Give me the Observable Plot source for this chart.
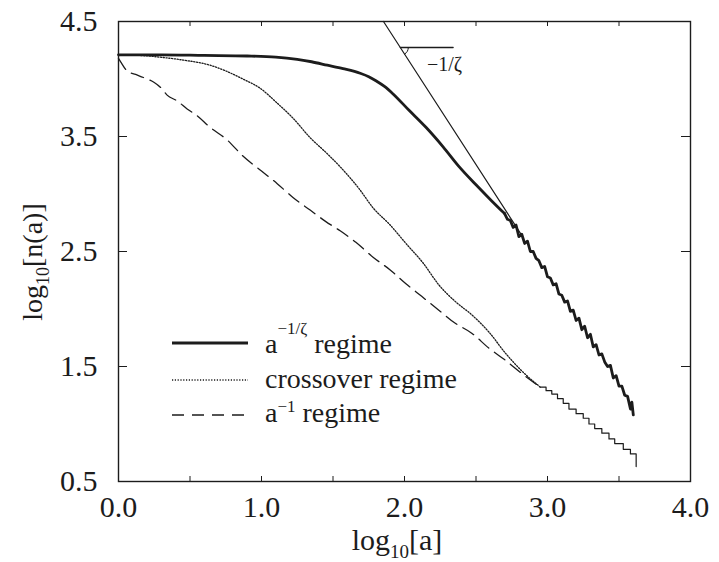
<!DOCTYPE html>
<html><head><meta charset="utf-8">
<script src="https://cdn.jsdelivr.net/npm/d3@7"></script>
<script src="https://cdn.jsdelivr.net/npm/@observablehq/plot@0.6"></script>
<style>
body{margin:0;background:#fff;}
#chart svg{display:block;}
</style>
</head><body><div id="chart"></div>
<script>
// ---- tick values ----
const xTickValues = [0, 1, 2, 3, 4];
const xMinorTicks = [0.5, 1, 1.5, 2, 2.5, 3, 3.5];
const yTickValues = [0.5, 1.5, 2.5, 3.5, 4.5];

// ---- a^{-1/zeta} regime (solid): smooth part ----
const solidX = [0, 0.3, 0.6, 0.9, 1.1, 1.25, 1.35, 1.46, 1.57, 1.69, 1.75, 1.80, 1.86, 1.92, 2.03, 2.15, 2.27, 2.38, 2.50, 2.61, 2.70];
const solidY = [4.21, 4.21, 4.205, 4.20, 4.19, 4.17, 4.15, 4.12, 4.09, 4.05, 4.02, 3.985, 3.935, 3.87, 3.73, 3.58, 3.41, 3.24, 3.08, 2.94, 2.83];
// ---- a^{-1/zeta} regime (solid): noisy large-a part ----
const noisyX = [2.70, 2.72, 2.74, 2.76, 2.78, 2.80, 2.82, 2.84, 2.86, 2.88, 2.90, 2.92, 2.94, 2.96, 2.98, 3.00, 3.02, 3.04,
  3.06, 3.08, 3.10, 3.12, 3.14, 3.16, 3.18, 3.20, 3.22, 3.24, 3.26, 3.28, 3.30, 3.32, 3.34, 3.36, 3.38, 3.40, 3.42, 3.44,
  3.46, 3.48, 3.50, 3.52, 3.54, 3.56, 3.58, 3.59, 3.60];
const noisyY = [2.83, 2.78, 2.77, 2.71, 2.73, 2.63, 2.65, 2.57, 2.59, 2.50, 2.50, 2.44, 2.42, 2.36, 2.37, 2.28, 2.27, 2.21,
  2.22, 2.13, 2.12, 2.06, 2.07, 1.98, 1.99, 1.90, 1.92, 1.82, 1.85, 1.75, 1.78, 1.67, 1.69, 1.60, 1.61, 1.54, 1.50, 1.51,
  1.40, 1.42, 1.33, 1.33, 1.25, 1.24, 1.13, 1.19, 1.08];

// ---- crossover regime (dotted) ----
const dottedX = [0, 0.15, 0.29, 0.45, 0.64, 0.75, 0.87, 0.99, 1.11, 1.22, 1.34, 1.46, 1.57, 1.68, 1.78, 1.90, 2.01, 2.13, 2.24, 2.36, 2.47, 2.59, 2.71, 2.83, 2.95];
const dottedY = [4.21, 4.205, 4.19, 4.165, 4.12, 4.07, 4.00, 3.92, 3.79, 3.66, 3.49, 3.35, 3.21, 3.05, 2.88, 2.73, 2.57, 2.40, 2.21, 2.06, 1.95, 1.80, 1.61, 1.45, 1.32];

// ---- a^{-1} regime (dashed) ----
const dashedX = [0, 0.02, 0.06, 0.12, 0.18, 0.25, 0.30, 0.34, 0.41, 0.48, 0.55, 0.64, 0.76, 0.87, 1.00, 1.11, 1.22, 1.34, 1.45, 1.55, 1.66, 1.78, 1.90, 2.01, 2.12, 2.24, 2.35, 2.47, 2.59, 2.71, 2.83, 2.95];
const dashedY = [4.18, 4.14, 4.07, 4.04, 4.01, 3.97, 3.92, 3.86, 3.81, 3.74, 3.68, 3.58, 3.47, 3.33, 3.20, 3.09, 2.97, 2.86, 2.76, 2.68, 2.58, 2.45, 2.34, 2.22, 2.11, 1.99, 1.88, 1.79, 1.66, 1.55, 1.43, 1.32];

// ---- shared staircase tail of crossover / a^{-1} curves ----
const tailX = [2.95, 2.99, 3.03, 3.07, 3.11, 3.15, 3.20, 3.25, 3.29, 3.33, 3.38, 3.43, 3.47, 3.53, 3.58, 3.62];
const tailY = [1.32, 1.29, 1.26, 1.22, 1.18, 1.13, 1.09, 1.05, 1.00, 0.96, 0.92, 0.87, 0.83, 0.78, 0.74, 0.63];

// ---- asymptote of slope -1/zeta and slope marker ----
const fitX = [1.853, 2.82];
const fitY = [4.5, 2.64];
const markX = [1.971, 2.34];
const markY = [4.274, 4.274];
const arcX = [2.027, 2.020, 2.001];
const arcY = [4.274, 4.241, 4.216];
const slopeLabel = [{x: 2.28, y: 4.126, text: "\u22121/\u03b6"}];

const zip = (xs, ys) => xs.map((x, i) => ({x, y: ys[i]}));
const solid = zip(solidX, solidY);
const noisy = zip(noisyX, noisyY);
const dotted = zip(dottedX, dottedY);
const dashed = zip(dashedX, dashedY);
const tail = zip(tailX, tailY);
const fit = zip(fitX, fitY);
const mark = zip(markX, markY);
const arc = zip(arcX, arcY);

const FONT = "'Liberation Serif', 'Times New Roman', serif";
const ink = "#1c1c1c";

const chart = Plot.plot({
  width: 719,
  height: 562,
  marginLeft: 118,
  marginRight: 29,
  marginTop: 21,
  marginBottom: 81,
  style: {fontFamily: FONT, background: "#fff", color: ink},
  x: {domain: [0, 4]},
  y: {domain: [0.5, 4.5]},
  marks: [
    Plot.frame({stroke: ink, strokeWidth: 1.4}),
    // inward ticks
    Plot.ruleX(xMinorTicks, {x: d => d, insetTop: 455, stroke: ink, strokeWidth: 1}),
    Plot.ruleX(xMinorTicks, {x: d => d, insetBottom: 455, stroke: ink, strokeWidth: 1}),
    Plot.ruleY(yTickValues, {y: d => d, insetRight: 563, stroke: ink, strokeWidth: 1}),
    Plot.ruleY(yTickValues, {y: d => d, insetLeft: 563, stroke: ink, strokeWidth: 1}),
    Plot.axisX({ticks: xTickValues, tickSize: 0, tickPadding: 14, tickFormat: d => d.toFixed(1), fontSize: 30, fontFamily: FONT, label: null, fill: ink}),
    Plot.axisY({ticks: yTickValues, tickSize: 0, tickPadding: 21, tickFormat: d => d.toFixed(1), fontSize: 30, fontFamily: FONT, label: null, fill: ink}),
    // curves
    Plot.line(dashed, {x: "x", y: "y", stroke: ink, strokeWidth: 1.3, strokeDasharray: "13,7", curve: "monotone-x"}),
    Plot.line(dotted, {x: "x", y: "y", stroke: ink, strokeWidth: 1.3, strokeDasharray: "1.2,1.6", curve: "monotone-x"}),
    Plot.line(tail, {x: "x", y: "y", curve: "step-after", stroke: ink, strokeWidth: 1.2}),
    Plot.line(fit, {x: "x", y: "y", stroke: ink, strokeWidth: 1.2}),
    Plot.line(mark, {x: "x", y: "y", stroke: ink, strokeWidth: 1.3}),
    Plot.line(arc, {x: "x", y: "y", stroke: ink, strokeWidth: 1, curve: "natural"}),
    Plot.line(solid, {x: "x", y: "y", stroke: ink, strokeWidth: 2.8, strokeLinejoin: "round", curve: "monotone-x"}),
    Plot.line(noisy, {x: "x", y: "y", stroke: ink, strokeWidth: 2.8, strokeLinejoin: "round"}),
    Plot.text(slopeLabel, {x: "x", y: "y", text: "text", fontSize: 20, fontFamily: FONT, fill: ink, textAnchor: "middle"})
  ]
});

const svg = d3.select(chart);

// axis titles with subscripts
const xl = svg.append("text").attr("x", 397).attr("y", 550).attr("text-anchor", "middle")
  .attr("font-family", FONT).attr("font-size", 30).attr("fill", ink);
xl.append("tspan").text("log");
xl.append("tspan").attr("font-size", 19).attr("dy", 8).text("10");
xl.append("tspan").attr("dy", -8).text("[a]");

const yl = svg.append("text").attr("transform", "translate(42,262) rotate(-90)").attr("text-anchor", "middle")
  .attr("font-family", FONT).attr("font-size", 28).attr("fill", ink);
yl.append("tspan").text("log");
yl.append("tspan").attr("font-size", 18).attr("dy", 7).text("10");
yl.append("tspan").attr("dy", -7).text("[n(a)]");

// legend
const legendRows = [
  {lineY: 343, textY: 353, dash: null, width: 3, base: "a", sup: "\u22121/\u03b6", supDy: -19, rest: " regime"},
  {lineY: 380, textY: 388, dash: "1.2,1.6", width: 1.3, base: "crossover regime", sup: null},
  {lineY: 415, textY: 422, dash: "12,8", width: 1.3, base: "a", sup: "\u22121", supDy: -10, rest: " regime"}
];
const lg = svg.append("g").attr("font-family", FONT).attr("fill", ink).attr("text-anchor", "start");
legendRows.forEach(r => {
  const ln = lg.append("line").attr("x1", 172).attr("x2", 248).attr("y1", r.lineY).attr("y2", r.lineY)
    .attr("stroke", ink).attr("stroke-width", r.width);
  if (r.dash) ln.attr("stroke-dasharray", r.dash);
  const t = lg.append("text").attr("x", 265).attr("y", r.textY).attr("font-size", 28).attr("text-anchor", "start");
  t.append("tspan").text(r.base);
  if (r.sup) {
    t.append("tspan").attr("font-size", 17).attr("dy", r.supDy).text(r.sup);
    t.append("tspan").attr("dy", -r.supDy).text(r.rest);
  }
});

document.getElementById("chart").appendChild(chart);
</script>
</body></html>
